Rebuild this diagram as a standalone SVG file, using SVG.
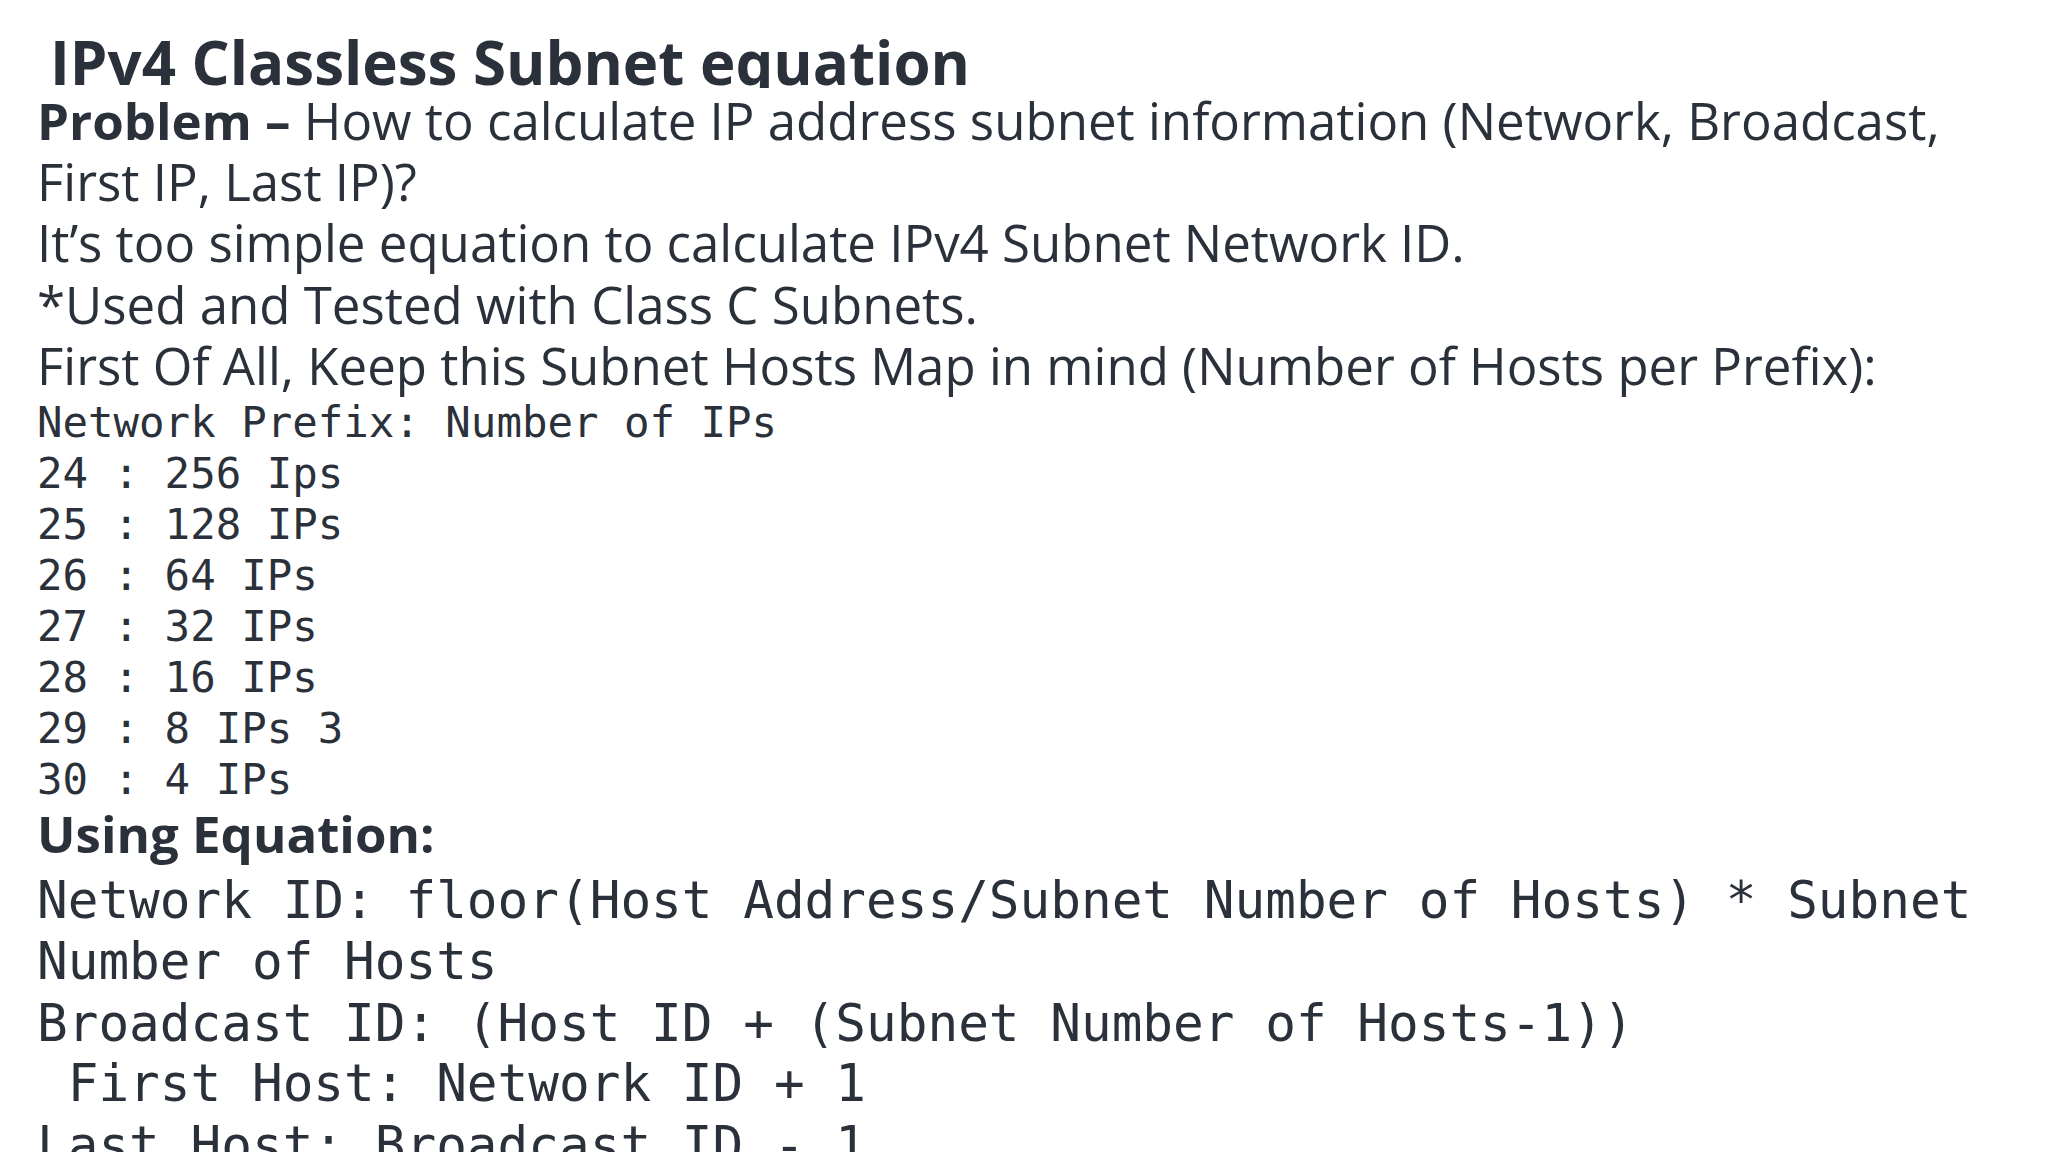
<svg xmlns="http://www.w3.org/2000/svg" width="2048" height="1152" viewBox="0 0 2048 1152">
<style>
text{fill:#2b313b;white-space:pre}
.s{font-family:"Open Sans","Noto Sans",sans-serif;font-size:51px}
.b{font-weight:bold}
.m{font-family:"DejaVu Sans Mono","Liberation Mono",monospace;font-size:42.4px}
.M{font-family:"DejaVu Sans Mono","Liberation Mono",monospace;font-size:51px}
</style>
<defs><clipPath id="c"><rect x="0" y="0" width="2048" height="88"/></clipPath></defs>
<rect width="2048" height="1152" fill="#fff"/>
<g id="title" clip-path="url(#c)"><text class="s b" x="50" y="85" style="font-size:60px">IPv4 Classless Subnet equation</text></g>
<g id="intro">
<text class="s" x="37" y="140"><tspan class="b">Problem –</tspan> How to calculate IP address subnet information (Network, Broadcast,</text>
<text class="s" x="37" y="201">First IP, Last IP)?</text>
<text class="s" x="37" y="262">It’s too simple equation to calculate IPv4 Subnet Network ID.</text>
<text class="s" x="37" y="324">*Used and Tested with Class C Subnets.</text>
<text class="s" x="37" y="385">First Of All, Keep this Subnet Hosts Map in mind (Number of Hosts per Prefix):</text>
</g>
<g id="map">
<text class="m" x="37" y="437">Network Prefix: Number of IPs</text>
<text class="m" x="37" y="488">24 : 256 Ips</text>
<text class="m" x="37" y="539">25 : 128 IPs</text>
<text class="m" x="37" y="590">26 : 64 IPs</text>
<text class="m" x="37" y="641">27 : 32 IPs</text>
<text class="m" x="37" y="692">28 : 16 IPs</text>
<text class="m" x="37" y="743">29 : 8 IPs 3</text>
<text class="m" x="37" y="794">30 : 4 IPs</text>
</g>
<g id="equations">
<text class="s b" x="37" y="853">Using Equation:</text>
<text class="M" x="37" y="918">Network ID: floor(Host Address/Subnet Number of Hosts) * Subnet</text>
<text class="M" x="37" y="979">Number of Hosts</text>
<text class="M" x="37" y="1041">Broadcast ID: (Host ID + (Subnet Number of Hosts-1))</text>
<text class="M" x="37" y="1101"> First Host: Network ID + 1</text>
<text class="M" x="37" y="1163">Last Host: Broadcast ID - 1</text>
</g>
</svg>
